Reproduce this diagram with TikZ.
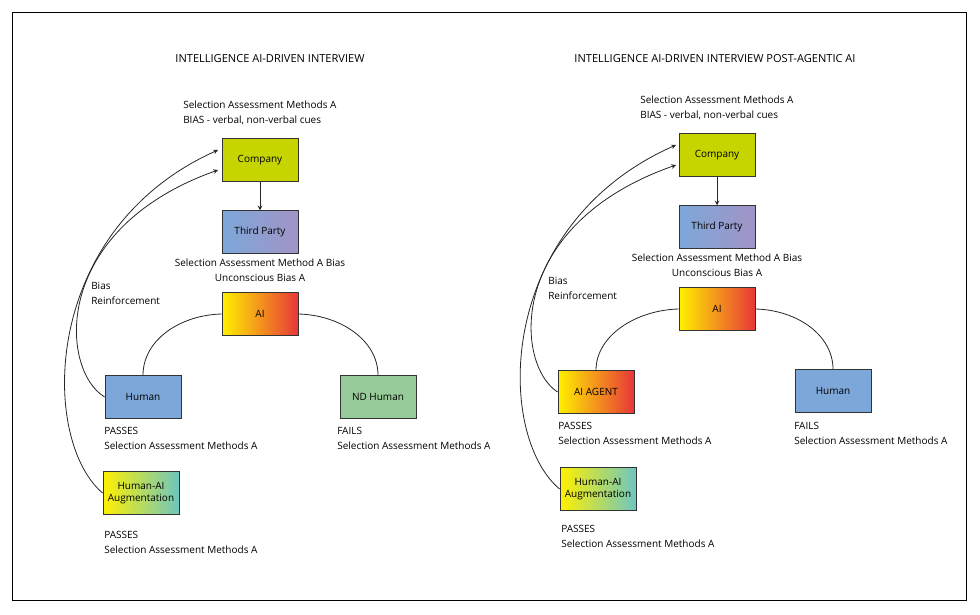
\documentclass[tikz,border=0pt]{standalone}
\usepackage{fontspec}
\setmainfont{Open Sans}
\begin{document}
\begin{tikzpicture}[x=0.75pt,y=-0.75pt,
  box/.style={draw=black!80,line width=0.6pt,minimum width=57pt,minimum height=32pt,inner sep=1pt,font=\fontsize{7.5}{9}\selectfont,align=center},
  txt/.style={font=\fontsize{7.5}{11}\selectfont,align=left,inner sep=0pt},
  ttl/.style={font=\fontsize{8.3}{10}\selectfont,inner sep=0pt},
  con/.style={line width=0.6pt,black!85},
  arr/.style={con,-stealth}]
\definecolor{cgreen}{HTML}{C6D400}
\definecolor{cblue}{HTML}{7DA7D9}
\definecolor{cpurp}{HTML}{A194C6}
\definecolor{cyel}{HTML}{FFF000}
\definecolor{corg}{HTML}{F6A51E}
\definecolor{cred}{HTML}{E8373A}
\definecolor{cnd}{HTML}{98CB9A}
\definecolor{cteal}{HTML}{6EC6C0}
\tikzset{
 company/.style={box,fill=cgreen},
 third/.style={box,left color=cblue,right color=cpurp},
 ai/.style={box,left color=cyel,middle color=corg,right color=cred},
 human/.style={box,fill=cblue},
 nd/.style={box,fill=cnd},
 aug/.style={box,left color=cyel,right color=cteal}}
\useasboundingbox (0,0) rectangle (980,614);
\draw[line width=0.6pt] (12,12) rectangle (966,600);
% left
\node[ttl] (t1) at (270,59) {INTELLIGENCE AI-DRIVEN INTERVIEW};
\node[company] (c1) at (260,160) {Company};
\node[third] (p1) at (260,232) {Third Party};
\node[ai] (a1) at (260,314) {AI};
\node[human] (h1) at (143,397) {Human};
\node[nd] (n1) at (378,397) {ND Human};
\node[aug] (g1) at (141,493) {Human-AI\\Augmentation};
\node[txt,anchor=north west] (s1) at (183,101) {Selection Assessment Methods A\\BIAS - verbal, non-verbal cues};
\node[txt,align=center,anchor=north] (b1) at (260,259) {Selection Assessment Method A Bias\\Unconscious Bias A};
\node[txt,anchor=north west] (r1) at (91,282) {Bias\\Reinforcement};
\node[txt,anchor=north west] (q1) at (104,427) {PASSES\\Selection Assessment Methods A};
\node[txt,anchor=north west] (f1) at (337,427) {FAILS\\Selection Assessment Methods A};
\node[txt,anchor=north west] (q2) at (104,531) {PASSES\\Selection Assessment Methods A};
\draw[arr] (c1) -- (p1);
\draw[con] (h1.north) .. controls (143,340) and (180,315) .. (a1.west);
\draw[con] (a1.east) .. controls (340,315) and (378,340) .. (n1.north);
\coordinate (e1) at (218,170);
\coordinate (e2) at (218,150);
\draw[arr] (h1.west) .. controls (60,370) and (50,230) .. (e1);
\draw[arr] (g1.west) .. controls (40,440) and (40,230) .. (e2);
% right
\node[ttl] (t2) at (715,59) {INTELLIGENCE AI-DRIVEN INTERVIEW POST-AGENTIC AI};
\node[company] (c2) at (717,155) {Company};
\node[third] (p2) at (717,227) {Third Party};
\node[ai] (a2) at (717,309) {AI};
\node[ai] (h2) at (596,392) {AI AGENT};
\node[human] (n2) at (833,391) {Human};
\node[aug] (g2) at (598,489) {Human-AI\\Augmentation};
\node[txt,anchor=north west] (s2) at (640,96) {Selection Assessment Methods A\\BIAS - verbal, non-verbal cues};
\node[txt,align=center,anchor=north] (b2) at (717,254) {Selection Assessment Method A Bias\\Unconscious Bias A};
\node[txt,anchor=north west] (r2) at (548,277) {Bias\\Reinforcement};
\node[txt,anchor=north west] (q3) at (558,422) {PASSES\\Selection Assessment Methods A};
\node[txt,anchor=north west] (f2) at (794,422) {FAILS\\Selection Assessment Methods A};
\node[txt,anchor=north west] (q4) at (561,525) {PASSES\\Selection Assessment Methods A};
\draw[arr] (c2) -- (p2);
\draw[con] (h2.north) .. controls (596,335) and (637,310) .. (a2.west);
\draw[con] (a2.east) .. controls (797,310) and (833,335) .. (n2.north);
\coordinate (e3) at (676,165);
\coordinate (e4) at (676,145);
\draw[arr] (h2.west) .. controls (515,365) and (505,225) .. (e3);
\draw[arr] (g2.west) .. controls (495,435) and (495,225) .. (e4);
\end{tikzpicture}
\end{document}
